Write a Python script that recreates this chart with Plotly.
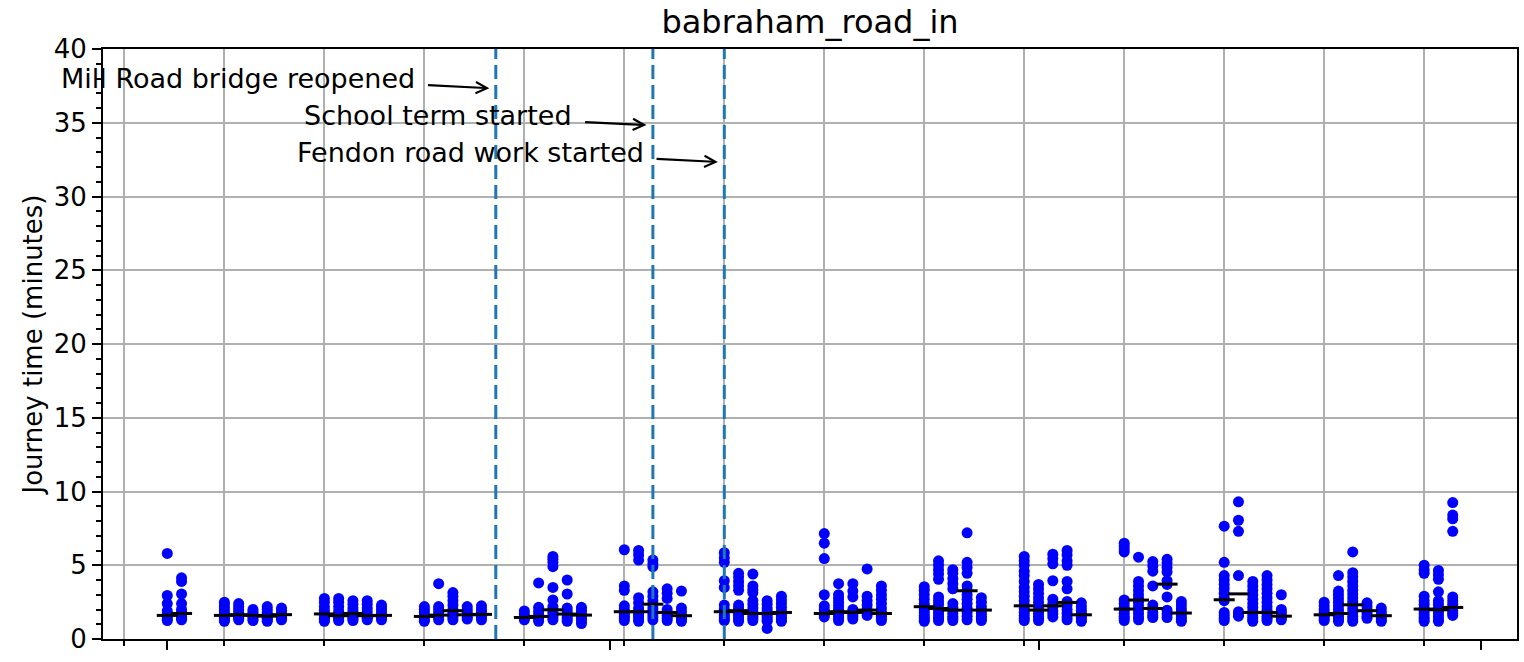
import plotly.graph_objects as go
import pandas as pd

# ---------------- data ----------------
days = [
    "2019-08-01", "2019-08-02",
    "2019-08-05", "2019-08-06", "2019-08-07", "2019-08-08", "2019-08-09",
    "2019-08-12", "2019-08-13", "2019-08-14", "2019-08-15", "2019-08-16",
    "2019-08-19", "2019-08-20", "2019-08-21", "2019-08-22", "2019-08-23",
    "2019-08-26", "2019-08-27", "2019-08-28", "2019-08-29", "2019-08-30",
    "2019-09-02", "2019-09-03", "2019-09-04", "2019-09-05", "2019-09-06",
    "2019-09-09", "2019-09-10", "2019-09-11", "2019-09-12", "2019-09-13",
    "2019-09-16", "2019-09-17", "2019-09-18", "2019-09-19", "2019-09-20",
    "2019-09-23", "2019-09-24", "2019-09-25", "2019-09-26", "2019-09-27",
    "2019-09-30", "2019-10-01", "2019-10-02", "2019-10-03", "2019-10-04",
    "2019-10-07", "2019-10-08", "2019-10-09", "2019-10-10", "2019-10-11",
    "2019-10-14", "2019-10-15", "2019-10-16", "2019-10-17", "2019-10-18",
    "2019-10-21", "2019-10-22", "2019-10-23", "2019-10-24", "2019-10-25",
    "2019-10-28", "2019-10-29", "2019-10-30",
]

journey_times = [
    [5.8, 2.95, 2.4, 1.9, 1.7, 1.6, 1.5, 1.35, 1.25],
    [4.15, 3.9, 3.05, 2.4, 2.0, 1.8, 1.7, 1.55, 1.4, 1.3],
    [2.5, 2.3, 2.1, 1.9, 1.7, 1.6, 1.5, 1.4, 1.3, 1.2],
    [2.4, 2.2, 2.0, 1.8, 1.65, 1.5, 1.4, 1.3],
    [2.0, 1.85, 1.7, 1.6, 1.5, 1.35, 1.25],
    [2.2, 2.0, 1.8, 1.6, 1.5, 1.4, 1.3, 1.2],
    [2.1, 1.95, 1.8, 1.65, 1.5, 1.4, 1.3],
    [2.75, 2.5, 2.2, 1.95, 1.75, 1.6, 1.5, 1.4, 1.3, 1.2],
    [2.75, 2.5, 2.2, 1.9, 1.7, 1.55, 1.45, 1.35, 1.25],
    [2.6, 2.35, 2.1, 1.9, 1.75, 1.6, 1.45, 1.35, 1.25],
    [2.6, 2.35, 2.1, 1.85, 1.6, 1.5, 1.4, 1.3],
    [2.3, 2.1, 1.9, 1.7, 1.55, 1.4, 1.3],
    [2.2, 2.0, 1.8, 1.6, 1.45, 1.3, 1.2],
    [3.75, 2.2, 2.0, 1.8, 1.6, 1.45, 1.3],
    [3.15, 2.9, 2.6, 2.3, 2.0, 1.8, 1.6, 1.45, 1.3],
    [2.2, 2.0, 1.8, 1.6, 1.45, 1.35],
    [2.25, 2.0, 1.8, 1.6, 1.45, 1.3],
    [1.9, 1.7, 1.5, 1.4, 1.3],
    [3.8, 2.15, 1.9, 1.7, 1.5, 1.35, 1.2],
    [5.6, 5.4, 5.2, 4.9, 3.5, 2.65, 2.2, 2.0, 1.8, 1.6, 1.45, 1.3],
    [4.0, 3.05, 2.1, 1.9, 1.7, 1.5, 1.35, 1.2],
    [2.15, 1.95, 1.75, 1.55, 1.4, 1.25, 1.05],
    [6.05, 3.6, 3.3, 2.25, 2.0, 1.85, 1.7, 1.55, 1.4, 1.25],
    [6.0, 5.7, 5.35, 2.8, 2.45, 2.1, 1.9, 1.8, 1.65, 1.5, 1.35, 1.2],
    [5.35, 5.1, 4.9, 3.2, 2.9, 2.6, 2.35, 2.1, 1.9, 1.7, 1.5, 1.3],
    [3.4, 3.1, 2.75, 2.0, 1.8, 1.6, 1.4, 1.25],
    [3.25, 2.1, 1.85, 1.6, 1.45, 1.3, 1.2],
    [5.85, 5.5, 5.2, 3.95, 3.5, 2.3, 2.0, 1.85, 1.65, 1.5, 1.35, 1.25],
    [4.45, 4.2, 3.9, 3.6, 3.3, 2.3, 2.1, 1.95, 1.8, 1.65, 1.5, 1.35, 1.2],
    [4.4, 3.6, 3.35, 3.15, 2.6, 2.35, 2.1, 1.85, 1.7, 1.55, 1.4, 1.25],
    [2.6, 2.35, 2.1, 1.9, 1.75, 1.6, 1.45, 1.3, 1.2, 0.72],
    [2.9, 2.65, 2.4, 2.15, 1.9, 1.75, 1.6, 1.45, 1.3, 1.2],
    [7.15, 6.5, 5.45, 3.0, 2.25, 2.0, 1.8, 1.65, 1.5],
    [3.75, 3.0, 2.75, 2.5, 2.25, 2.0, 1.85, 1.7, 1.55, 1.4, 1.25],
    [3.75, 3.25, 2.85, 2.0, 1.8, 1.65, 1.5, 1.35],
    [4.75, 2.9, 2.6, 2.3, 2.0, 1.8, 1.6],
    [3.6, 3.3, 3.0, 2.7, 2.4, 2.1, 1.85, 1.7, 1.55, 1.4, 1.25],
    [3.55, 3.3, 3.0, 2.7, 2.4, 2.2, 2.0, 1.8, 1.6, 1.45, 1.3, 1.2],
    [5.3, 5.0, 4.7, 4.4, 4.05, 2.85, 2.6, 2.35, 2.1, 1.9, 1.7, 1.5, 1.35, 1.25],
    [4.7, 4.45, 4.1, 3.75, 3.4, 2.4, 2.15, 1.95, 1.75, 1.55, 1.4, 1.25],
    [7.2, 5.2, 4.85, 4.45, 3.6, 3.3, 3.0, 2.7, 2.4, 2.1, 1.8, 1.55, 1.3],
    [2.8, 2.5, 2.2, 1.95, 1.75, 1.55, 1.4, 1.25],
    [5.6, 5.3, 5.0, 4.6, 4.3, 3.9, 3.5, 3.2, 2.9, 2.6, 2.3, 2.05, 1.8, 1.6, 1.4, 1.25],
    [3.7, 3.4, 3.1, 2.8, 2.5, 2.2, 1.95, 1.75, 1.55, 1.4, 1.25],
    [5.75, 5.45, 5.1, 3.95, 2.7, 2.4, 2.15, 1.9, 1.7, 1.5],
    [6.0, 5.7, 5.3, 5.0, 3.9, 3.4, 2.55, 2.3, 2.0, 1.75, 1.5, 1.3],
    [2.45, 2.2, 1.95, 1.75, 1.6, 1.45, 1.3, 1.2],
    [6.5, 6.3, 6.1, 5.9, 2.65, 2.4, 2.15, 1.95, 1.75, 1.55, 1.4, 1.25],
    [5.55, 3.9, 3.6, 3.3, 3.0, 2.75, 2.5, 2.25, 2.0, 1.75, 1.5, 1.3],
    [5.25, 4.95, 4.6, 3.6, 2.3, 2.05, 1.8, 1.6, 1.45],
    [5.4, 5.15, 4.85, 4.55, 3.95, 3.7, 2.85, 1.95, 1.7, 1.45],
    [2.55, 2.3, 2.05, 1.85, 1.65, 1.45, 1.3, 1.2],
    [7.65, 5.2, 4.3, 4.0, 3.7, 3.4, 3.1, 2.8, 2.6, 1.8, 1.6, 1.4, 1.25],
    [9.3, 8.05, 7.3, 4.3, 1.85, 1.7, 1.55],
    [3.9, 3.6, 3.3, 3.0, 2.7, 2.4, 2.15, 1.9, 1.7, 1.5, 1.35, 1.2],
    [4.3, 4.0, 3.7, 3.4, 3.1, 2.8, 2.5, 2.2, 1.95, 1.75, 1.55, 1.4, 1.25],
    [3.0, 2.0, 1.8, 1.6, 1.45, 1.3],
    [2.5, 2.25, 2.0, 1.8, 1.65, 1.5, 1.35, 1.25],
    [4.3, 3.25, 3.0, 2.75, 2.5, 2.25, 2.0, 1.8, 1.6, 1.45, 1.3, 1.2],
    [5.9, 4.5, 4.2, 3.9, 3.6, 3.3, 3.05, 2.8, 2.55, 2.3, 2.05, 1.8, 1.55, 1.35, 1.2],
    [2.45, 2.2, 1.95, 1.75, 1.55, 1.4],
    [2.1, 1.85, 1.65, 1.45, 1.3, 1.2],
    [5.0, 4.7, 4.45, 2.9, 2.6, 2.35, 2.1, 1.9, 1.7, 1.5, 1.35, 1.2],
    [4.65, 4.35, 4.05, 3.2, 2.6, 2.35, 2.1, 1.9, 1.7, 1.5, 1.3, 1.2],
    [9.25, 8.4, 8.15, 7.3, 2.85, 2.6, 2.35, 2.1, 1.9, 1.75, 1.6],
]

median_times = [
    1.60, 1.73,
    1.60, 1.65, 1.60, 1.55, 1.65,
    1.70, 1.58, 1.73, 1.58, 1.60,
    1.53, 1.62, 1.92, 1.64, 1.67,
    1.46, 1.53, 1.98, 1.69, 1.62,
    1.85, 1.85, 2.36, 1.80, 1.58,
    1.85, 1.92, 1.73, 1.73, 1.80,
    1.73, 1.85, 1.80, 1.96, 1.73,
    2.19, 2.07, 1.96, 3.27, 1.96,
    2.25, 1.96, 2.25, 2.48, 1.64,
    2.03, 2.64, 2.07, 3.72, 1.76,
    2.66, 3.06, 1.80, 1.80, 1.55,
    1.64, 1.73, 2.32, 1.92, 1.58,
    2.03, 1.98, 2.14,
]

event_dates = ["2019-08-24", "2019-09-04", "2019-09-09"]
event_labels = ["Mill Road bridge reopened", "School term started", "Fendon road work started"]
label_levels = [38.0, 35.5, 33.0]

title_text = "babraham_road_in"
y_label = "Journey time (minutes)"

# ---------------- figure ----------------
FONT = "DejaVu Sans"
pts_x, pts_y = [], []
for d, vals in zip(days, journey_times):
    pts_x.extend([d] * len(vals))
    pts_y.extend(vals)

fig = go.Figure()
fig.add_trace(go.Scatter(
    x=pts_x, y=pts_y, mode="markers",
    marker=dict(color="#0000ff", size=11, line=dict(width=0)),
    showlegend=False, hoverinfo="x+y",
))
fig.add_trace(go.Scatter(
    x=days, y=median_times, mode="markers",
    marker=dict(symbol="line-ew", size=15, color="black",
                line=dict(width=3, color="black")),
    showlegend=False,
))

shapes = []
annotations = []
for d, lab, lev in zip(event_dates, event_labels, label_levels):
    t = pd.Timestamp(d)
    shapes.append(dict(
        type="line", xref="x", yref="paper", x0=d, x1=d, y0=0, y1=1,
        line=dict(color="#1f77b4", width=3, dash="14px,6px"), layer="above",
    ))
    annotations.append(dict(
        x=(t - pd.Timedelta(days=5.5)).isoformat(), y=lev, xref="x", yref="y",
        text=lab, showarrow=False, xanchor="right", yanchor="middle",
        font=dict(family=FONT, size=27, color="black"),
    ))
    annotations.append(dict(
        x=(t - pd.Timedelta(days=0.45)).isoformat(), y=lev - 0.66,
        ax=(t - pd.Timedelta(days=4.85)).isoformat(), ay=lev - 0.45,
        xref="x", yref="y", axref="x", ayref="y",
        text="", showarrow=True, arrowhead=5, arrowsize=1, arrowwidth=2.2,
        arrowcolor="black",
    ))

fig.update_layout(
    width=1524, height=662,
    margin=dict(l=103, r=5, t=49, b=23),
    paper_bgcolor="white", plot_bgcolor="white",
    font=dict(family=FONT, size=26, color="black"),
    title=dict(text=title_text, x=0.5, xref="paper", y=1 - 22 / 662,
               yref="container", xanchor="center", yanchor="middle",
               font=dict(family=FONT, size=32, color="black")),
    shapes=shapes, annotations=annotations,
)

fig.update_xaxes(
    type="date", range=["2019-07-27 12:00", "2019-11-03 12:00"],
    tick0="2019-08-01", dtick="M1", ticks="outside", ticklen=9, tickwidth=2,
    tickcolor="black", showticklabels=False, showgrid=False, zeroline=False,
    showline=True, linecolor="black", linewidth=2, mirror=True,
    minor=dict(tick0="2019-07-29", dtick=7 * 86400000, ticks="outside",
               ticklen=5, tickwidth=2, tickcolor="black",
               showgrid=True, gridcolor="#b0b0b0", gridwidth=2),
)
fig.update_yaxes(
    range=[0, 40], tick0=0, dtick=5, ticks="outside", ticklen=9, tickwidth=2,
    tickcolor="black", showgrid=True, gridcolor="#b0b0b0", gridwidth=2,
    zeroline=False, showline=True, linecolor="black", linewidth=2, mirror=True,
    tickfont=dict(family=FONT, size=26, color="black"),
    title=dict(text=y_label, font=dict(family=FONT, size=26, color="black"),
               standoff=4),
    minor=dict(dtick=1, ticks="outside", ticklen=5, tickwidth=2,
               tickcolor="black", showgrid=False),
)

fig.write_html(
    "out.html",
    config={"displayModeBar": False},
    post_script="document.body.style.margin='0';document.body.style.overflow='hidden';",
)
